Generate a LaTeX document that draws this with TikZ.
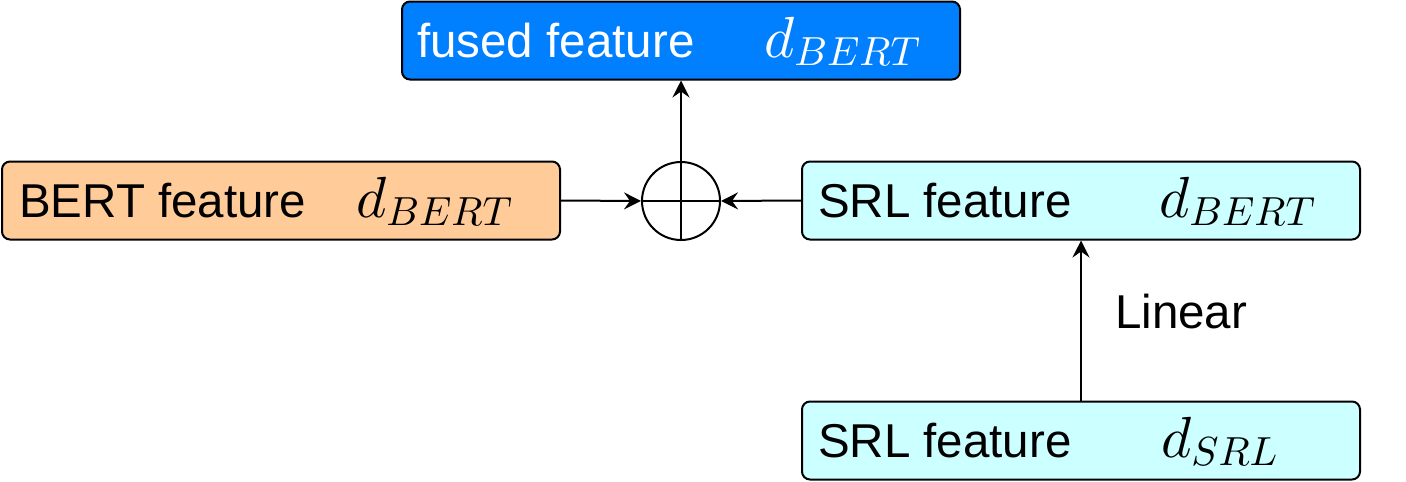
\RequirePackage{fix-cm}
\documentclass[tikz,border=0pt]{standalone}
\usepackage{fontspec}
\setmainfont{Liberation Sans}
\usetikzlibrary{arrows.meta}
% use the heavier 10pt design of the math italic at every size
\DeclareFontShape{OML}{cmm}{m}{it}{<->cmmi10}{}
\definecolor{fusedblue}{HTML}{007FFF}
\definecolor{bertorange}{HTML}{FFCC99}
\definecolor{srlcyan}{HTML}{CCFFFF}
\begin{document}
\begin{tikzpicture}[x=1pt,y=-1pt,
  featbox/.style={draw=black, line width=2pt, rounded corners=8pt,
    minimum width=558pt, minimum height=78pt, inner sep=0pt},
  label/.style={anchor=base west, inner sep=0pt, font=\fontsize{47.5pt}{56pt}\selectfont},
  dimlabel/.style={anchor=base west, inner sep=0pt, font=\fontsize{58pt}{68pt}\selectfont},
  conn/.style={line width=2pt, -{Stealth[length=17pt,width=17pt,inset=6pt]}}
]
\useasboundingbox (0,0) rectangle (1406,482);

% feature boxes
\node[featbox, fill=fusedblue] (fused) at (681,40.5) {};
\node[featbox, fill=bertorange] (bert) at (281,200.5) {};
\node[featbox, fill=srlcyan] (srlhi) at (1081,200.5) {};
\node[featbox, fill=srlcyan] (srllo) at (1081,440.5) {};

% box texts
\node[label, text=white] (fusedtxt) at (417,57) {fused feature};
\node[dimlabel, text=white] (fuseddim) at (764,57) {$d_{BERT}$};
\node[label] (berttxt) at (19,217) {BERT feature};
\node[dimlabel] (bertdim) at (356,217) {$d_{BERT}$};
\node[label] (srlhitxt) at (818,217) {SRL feature};
\node[dimlabel] (srlhidim) at (1159,217) {$d_{BERT}$};
\node[label] (srllotxt) at (818,457) {SRL feature};
\node[dimlabel] (srllodim) at (1161,457) {$d_{SRL}$};

% summation node
\node[circle, draw=black, line width=2pt, minimum size=78pt, inner sep=0pt] (sum) at (681,201) {};
\draw[line width=2pt] (sum.north) -- (sum.south);
\draw[line width=2pt] (sum.west) -- (sum.east);

% connectors
\draw[conn] (bert.east) -- (sum.west);
\draw[conn] (srlhi.west) -- (sum.east);
\draw[conn] (sum.north) -- (fused.south);
\draw[conn] (srllo.north) -- (srlhi.south);
\node[label] (lin) at (1115,328) {Linear};
\end{tikzpicture}
\end{document}
